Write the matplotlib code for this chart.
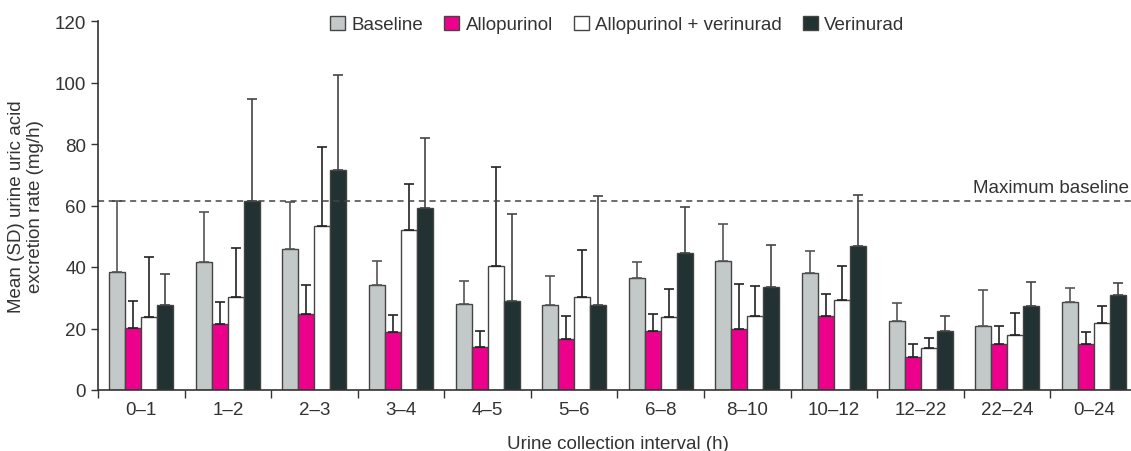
import matplotlib
matplotlib.use("Agg")
import matplotlib.pyplot as plt
import numpy as np

intervals = ["0–1", "1–2", "2–3", "3–4", "4–5", "5–6", "6–8", "8–10",
             "10–12", "12–22", "22–24", "0–24"]

baseline = [38.4, 41.5, 45.8, 34.2, 28.0, 27.8, 36.3, 42.1, 38.0, 22.3, 20.7, 28.5]
baseline_sd = [23.2, 16.5, 15.4, 7.8, 7.3, 9.2, 5.3, 11.9, 7.3, 5.9, 11.9, 4.7]

allopurinol = [20.3, 21.4, 24.6, 19.0, 14.1, 16.5, 19.3, 19.8, 24.0, 10.7, 15.1, 15.1]
allopurinol_sd = [8.5, 7.1, 9.7, 5.3, 5.1, 7.6, 5.4, 14.7, 7.3, 4.1, 5.6, 3.7]

combo = [23.9, 30.2, 53.4, 52.1, 40.2, 30.2, 23.8, 24.2, 29.3, 13.5, 17.8, 21.8]
combo_sd = [19.5, 16.0, 25.7, 14.8, 32.3, 15.4, 9.1, 9.5, 11.1, 3.5, 7.1, 5.4]

verinurad = [27.8, 61.5, 71.7, 59.1, 29.0, 27.6, 44.6, 33.5, 46.8, 19.2, 27.2, 30.8]
verinurad_sd = [9.8, 33.2, 30.9, 22.7, 28.3, 35.6, 15.0, 13.6, 16.5, 4.8, 8.0, 4.1]

max_baseline = 61.6

series = [
    ("Baseline", baseline, baseline_sd, "#c3c8c8", "#555555"),
    ("Allopurinol", allopurinol, allopurinol_sd, "#ec008c", "#222222"),
    ("Allopurinol + verinurad", combo, combo_sd, "#ffffff", "#222222"),
    ("Verinurad", verinurad, verinurad_sd, "#223131", "#444444"),
]

text_col = "#333333"
fs = 13.5
plt.rcParams["font.family"] = ["Liberation Sans", "DejaVu Sans"]

fig = plt.figure(figsize=(11.31, 4.52), dpi=100)
ax = fig.add_axes([98 / 1131, 61 / 452, 1039 / 1131, 369 / 452])

x = np.arange(len(intervals))
w = 0.185
for i, (name, vals, sd, col, ecol) in enumerate(series):
    ax.bar(x + (i - 1.5) * w, vals, width=w, color=col, edgecolor="#444444",
           linewidth=1.0, label=name,
           yerr=[np.zeros(len(sd)), sd],
           error_kw=dict(ecolor=ecol, elinewidth=1.2, capsize=3.5, capthick=1.2))

ax.axhline(max_baseline, color="#444444", linestyle=(0, (4, 3)), linewidth=1.1)
ax.text(1129 / 1131, max_baseline + 1.5, "Maximum baseline", ha="right", va="bottom",
        fontsize=fs, color=text_col,
        transform=matplotlib.transforms.blended_transform_factory(fig.transFigure, ax.transData))

ax.set_xlim(-0.5, 11.5)
ax.set_ylim(0, 120)
ax.set_yticks(range(0, 121, 20))
ax.set_xticks(x)
ax.set_xticklabels(intervals)
ax.set_xticks(np.arange(-0.5, 11.5, 1), minor=True)
ax.tick_params(axis="x", which="major", length=0, labelsize=fs, colors=text_col, pad=8)
ax.tick_params(axis="x", which="minor", length=6, width=1, color="#333333", direction="out")
ax.tick_params(axis="y", length=5, width=1, labelsize=fs, colors=text_col, color="#333333")

for s in ["top", "right"]:
    ax.spines[s].set_visible(False)
for s in ["left", "bottom"]:
    ax.spines[s].set_color("#333333")
    ax.spines[s].set_linewidth(1.2)

ax.set_ylabel("Mean (SD) urine uric acid\nexcretion rate (mg/h)", fontsize=fs,
              color=text_col, labelpad=8, linespacing=1.1)
ax.set_xlabel("Urine collection interval (h)", fontsize=fs, color=text_col, labelpad=12)

ax.legend(loc="upper center", bbox_to_anchor=(0.5, 1.06), ncol=4, frameon=False,
          fontsize=fs, handlelength=0.8, handleheight=0.8, handletextpad=0.35,
          columnspacing=1.1, labelcolor=text_col)

fig.savefig("out.png", dpi=100)
